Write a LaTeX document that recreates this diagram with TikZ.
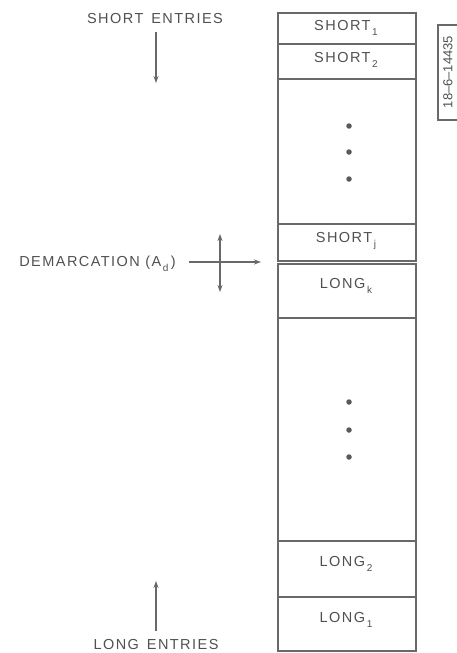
\documentclass[tikz,border=0pt]{standalone}
\usepackage{fontspec}
\setmainfont{Liberation Sans}
\usetikzlibrary{arrows.meta}
\definecolor{linegray}{RGB}{105,105,105}
\definecolor{txtgray}{RGB}{80,80,80}
\newcommand{\lbfont}{\fontsize{14.5}{15}\selectfont\addfontfeatures{LetterSpace=10}}
\newcommand{\mysub}[1]{\raisebox{-4.5pt}{\fontsize{10}{10}\selectfont\,#1}}
\begin{document}
\begin{tikzpicture}[x=1pt,y=-1pt,
  cell/.style={draw=linegray, line width=1.7pt, minimum width=138pt, inner sep=0pt, anchor=north west},
  lbl/.style={text=txtgray, font=\lbfont, inner sep=0pt},
  dot/.style={circle, fill=linegray!85!black, inner sep=0pt, minimum size=5.5pt},
  arr/.style={draw=linegray, line width=1.4pt, -{Stealth[length=7pt,width=5pt]}},
  darr/.style={draw=linegray, line width=1.4pt, {Stealth[length=7pt,width=5pt]}-{Stealth[length=7pt,width=5pt]}}]
\useasboundingbox (0,0) rectangle (457,653);
% column cells
\node[cell, minimum height=31pt] (s1) at (277,12) {};
\node[cell, minimum height=35pt] (s2) at (277,43) {};
\node[cell, minimum height=145pt] (sd) at (277,78) {};
\node[cell, minimum height=37pt] (sj) at (277,223) {};
\node[cell, minimum height=54pt] (lk) at (277,263) {};
\node[cell, minimum height=223pt] (ld) at (277,317) {};
\node[cell, minimum height=56pt] (l2) at (277,540) {};
\node[cell, minimum height=54pt] (l1) at (277,596) {};
% cell texts
\node[lbl] (t1) at (346,28) {SHORT\mysub{1}};
\node[lbl] (t2) at (346,60) {SHORT\mysub{2}};
\node[lbl] (tj) at (346,241) {SHORT\mysub{j}};
\node[lbl] (tk) at (346,286) {LONG\mysub{k}};
\node[lbl] (t3) at (346,564) {LONG\mysub{2}};
\node[lbl] (t4) at (346,620) {LONG\mysub{1}};
% dots
\node[dot] (d1) at (349,126) {};
\node[dot] (d2) at (349,152) {};
\node[dot] (d3) at (349,179) {};
\node[dot] (d4) at (349,402) {};
\node[dot] (d5) at (349,430) {};
\node[dot] (d6) at (349,457) {};
% short entries
\node[lbl] (se) at (155,19) {SHORT\ \,ENTRIES};
\coordinate (seA) at (156,32);
\coordinate (seB) at (156,83);
\draw[arr] (seA) -- (seB);
% long entries
\node[lbl] (le) at (156,644) {LONG\ \,ENTRIES};
\coordinate (leA) at (156,631);
\coordinate (leB) at (156,581);
\draw[arr] (leA) -- (leB);
% demarcation
\node[lbl, anchor=east] (dm) at (176,264) {DEMARCATION (A\mysub{d}\,)};
\coordinate (dmA) at (189,262);
\coordinate (dmB) at (261,262);
\draw[arr] (dmA) -- (dmB);
\coordinate (vA) at (220,234);
\coordinate (vB) at (220,292);
\draw[darr] (vA) -- (vB);
% figure number tag
\draw[draw=linegray, line width=1.2pt] (460,25) -- (438,25) -- (438,120) -- (460,120);
\node[lbl, rotate=90, font=\fontsize{13}{13}\selectfont] (fig) at (448,72) {18–6–14435};
\end{tikzpicture}
\end{document}
